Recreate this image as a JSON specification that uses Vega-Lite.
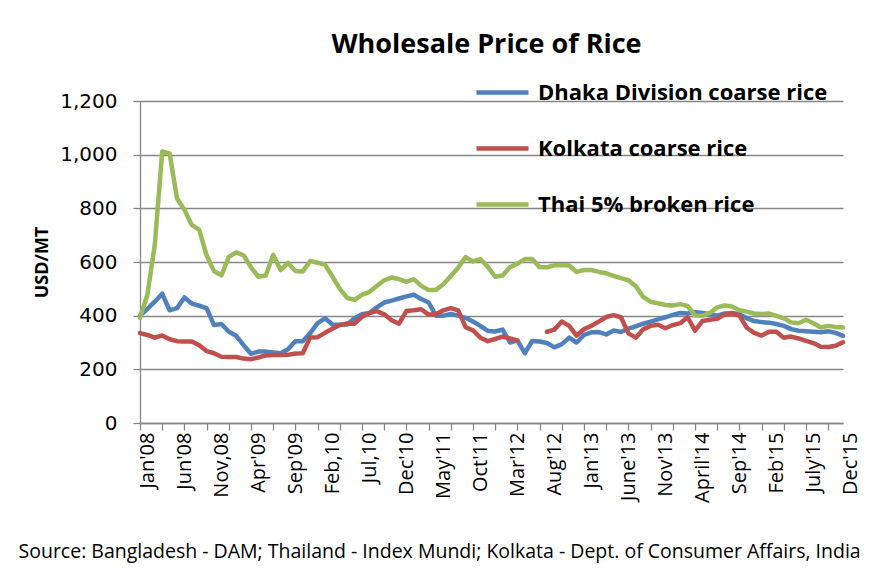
{
  "$schema": "https://vega.github.io/schema/vega-lite/v6.json",
  "width": 703,
  "height": 322,
  "autosize": {"type": "none"},
  "padding": {"left": 140, "top": 101, "right": 37, "bottom": 154},
  "background": "white",
  "title": {"text": "Wholesale Price of Rice", "font": "Open Sans", "fontSize": 27, "fontWeight": "bold", "color": "black", "anchor": "middle", "offset": 5, "dx": -5},
  "data": {"values": [
    {"m":0,"Dhaka Division coarse rice":400,"Kolkata coarse rice":335,"Thai 5% broken rice":392},
    {"m":1,"Dhaka Division coarse rice":425,"Kolkata coarse rice":328,"Thai 5% broken rice":478},
    {"m":2,"Dhaka Division coarse rice":452,"Kolkata coarse rice":318,"Thai 5% broken rice":665},
    {"m":3,"Dhaka Division coarse rice":482,"Kolkata coarse rice":326,"Thai 5% broken rice":1012},
    {"m":4,"Dhaka Division coarse rice":420,"Kolkata coarse rice":312,"Thai 5% broken rice":1005},
    {"m":5,"Dhaka Division coarse rice":428,"Kolkata coarse rice":305,"Thai 5% broken rice":837},
    {"m":6,"Dhaka Division coarse rice":468,"Kolkata coarse rice":304,"Thai 5% broken rice":795},
    {"m":7,"Dhaka Division coarse rice":445,"Kolkata coarse rice":304,"Thai 5% broken rice":738},
    {"m":8,"Dhaka Division coarse rice":437,"Kolkata coarse rice":290,"Thai 5% broken rice":720},
    {"m":9,"Dhaka Division coarse rice":428,"Kolkata coarse rice":268,"Thai 5% broken rice":625},
    {"m":10,"Dhaka Division coarse rice":365,"Kolkata coarse rice":260,"Thai 5% broken rice":566},
    {"m":11,"Dhaka Division coarse rice":369,"Kolkata coarse rice":247,"Thai 5% broken rice":550},
    {"m":12,"Dhaka Division coarse rice":340,"Kolkata coarse rice":246,"Thai 5% broken rice":619},
    {"m":13,"Dhaka Division coarse rice":325,"Kolkata coarse rice":246,"Thai 5% broken rice":636},
    {"m":14,"Dhaka Division coarse rice":290,"Kolkata coarse rice":240,"Thai 5% broken rice":625},
    {"m":15,"Dhaka Division coarse rice":258,"Kolkata coarse rice":238,"Thai 5% broken rice":580},
    {"m":16,"Dhaka Division coarse rice":266,"Kolkata coarse rice":244,"Thai 5% broken rice":545},
    {"m":17,"Dhaka Division coarse rice":266,"Kolkata coarse rice":252,"Thai 5% broken rice":550},
    {"m":18,"Dhaka Division coarse rice":263,"Kolkata coarse rice":253,"Thai 5% broken rice":627},
    {"m":19,"Dhaka Division coarse rice":260,"Kolkata coarse rice":253,"Thai 5% broken rice":570},
    {"m":20,"Dhaka Division coarse rice":275,"Kolkata coarse rice":254,"Thai 5% broken rice":597},
    {"m":21,"Dhaka Division coarse rice":305,"Kolkata coarse rice":259,"Thai 5% broken rice":566},
    {"m":22,"Dhaka Division coarse rice":305,"Kolkata coarse rice":260,"Thai 5% broken rice":565},
    {"m":23,"Dhaka Division coarse rice":335,"Kolkata coarse rice":319,"Thai 5% broken rice":604},
    {"m":24,"Dhaka Division coarse rice":372,"Kolkata coarse rice":320,"Thai 5% broken rice":597},
    {"m":25,"Dhaka Division coarse rice":390,"Kolkata coarse rice":336,"Thai 5% broken rice":590},
    {"m":26,"Dhaka Division coarse rice":367,"Kolkata coarse rice":351,"Thai 5% broken rice":546},
    {"m":27,"Dhaka Division coarse rice":366,"Kolkata coarse rice":365,"Thai 5% broken rice":500},
    {"m":28,"Dhaka Division coarse rice":367,"Kolkata coarse rice":371,"Thai 5% broken rice":466},
    {"m":29,"Dhaka Division coarse rice":390,"Kolkata coarse rice":370,"Thai 5% broken rice":459},
    {"m":30,"Dhaka Division coarse rice":405,"Kolkata coarse rice":396,"Thai 5% broken rice":478},
    {"m":31,"Dhaka Division coarse rice":410,"Kolkata coarse rice":410,"Thai 5% broken rice":488},
    {"m":32,"Dhaka Division coarse rice":431,"Kolkata coarse rice":417,"Thai 5% broken rice":511},
    {"m":33,"Dhaka Division coarse rice":449,"Kolkata coarse rice":405,"Thai 5% broken rice":532},
    {"m":34,"Dhaka Division coarse rice":456,"Kolkata coarse rice":383,"Thai 5% broken rice":542},
    {"m":35,"Dhaka Division coarse rice":464,"Kolkata coarse rice":370,"Thai 5% broken rice":536},
    {"m":36,"Dhaka Division coarse rice":472,"Kolkata coarse rice":417,"Thai 5% broken rice":526},
    {"m":37,"Dhaka Division coarse rice":478,"Kolkata coarse rice":420,"Thai 5% broken rice":536},
    {"m":38,"Dhaka Division coarse rice":462,"Kolkata coarse rice":424,"Thai 5% broken rice":511},
    {"m":39,"Dhaka Division coarse rice":449,"Kolkata coarse rice":404,"Thai 5% broken rice":496},
    {"m":40,"Dhaka Division coarse rice":400,"Kolkata coarse rice":405,"Thai 5% broken rice":496},
    {"m":41,"Dhaka Division coarse rice":400,"Kolkata coarse rice":420,"Thai 5% broken rice":517},
    {"m":42,"Dhaka Division coarse rice":406,"Kolkata coarse rice":428,"Thai 5% broken rice":548},
    {"m":43,"Dhaka Division coarse rice":400,"Kolkata coarse rice":420,"Thai 5% broken rice":579},
    {"m":44,"Dhaka Division coarse rice":392,"Kolkata coarse rice":357,"Thai 5% broken rice":618},
    {"m":45,"Dhaka Division coarse rice":378,"Kolkata coarse rice":345,"Thai 5% broken rice":602},
    {"m":46,"Dhaka Division coarse rice":362,"Kolkata coarse rice":318,"Thai 5% broken rice":611},
    {"m":47,"Dhaka Division coarse rice":343,"Kolkata coarse rice":305,"Thai 5% broken rice":582},
    {"m":48,"Dhaka Division coarse rice":341,"Kolkata coarse rice":313,"Thai 5% broken rice":545},
    {"m":49,"Dhaka Division coarse rice":348,"Kolkata coarse rice":322,"Thai 5% broken rice":550},
    {"m":50,"Dhaka Division coarse rice":300,"Kolkata coarse rice":315,"Thai 5% broken rice":581},
    {"m":51,"Dhaka Division coarse rice":308,"Kolkata coarse rice":308,"Thai 5% broken rice":594},
    {"m":52,"Dhaka Division coarse rice":260,"Kolkata coarse rice":null,"Thai 5% broken rice":611},
    {"m":53,"Dhaka Division coarse rice":306,"Kolkata coarse rice":null,"Thai 5% broken rice":611},
    {"m":54,"Dhaka Division coarse rice":304,"Kolkata coarse rice":null,"Thai 5% broken rice":580},
    {"m":55,"Dhaka Division coarse rice":298,"Kolkata coarse rice":340,"Thai 5% broken rice":580},
    {"m":56,"Dhaka Division coarse rice":282,"Kolkata coarse rice":348,"Thai 5% broken rice":588},
    {"m":57,"Dhaka Division coarse rice":294,"Kolkata coarse rice":378,"Thai 5% broken rice":589},
    {"m":58,"Dhaka Division coarse rice":318,"Kolkata coarse rice":362,"Thai 5% broken rice":587},
    {"m":59,"Dhaka Division coarse rice":300,"Kolkata coarse rice":326,"Thai 5% broken rice":563},
    {"m":60,"Dhaka Division coarse rice":328,"Kolkata coarse rice":350,"Thai 5% broken rice":570},
    {"m":61,"Dhaka Division coarse rice":338,"Kolkata coarse rice":362,"Thai 5% broken rice":570},
    {"m":62,"Dhaka Division coarse rice":339,"Kolkata coarse rice":378,"Thai 5% broken rice":563},
    {"m":63,"Dhaka Division coarse rice":330,"Kolkata coarse rice":395,"Thai 5% broken rice":558},
    {"m":64,"Dhaka Division coarse rice":345,"Kolkata coarse rice":402,"Thai 5% broken rice":548},
    {"m":65,"Dhaka Division coarse rice":339,"Kolkata coarse rice":394,"Thai 5% broken rice":540},
    {"m":66,"Dhaka Division coarse rice":352,"Kolkata coarse rice":334,"Thai 5% broken rice":532},
    {"m":67,"Dhaka Division coarse rice":360,"Kolkata coarse rice":318,"Thai 5% broken rice":510},
    {"m":68,"Dhaka Division coarse rice":370,"Kolkata coarse rice":349,"Thai 5% broken rice":470},
    {"m":69,"Dhaka Division coarse rice":378,"Kolkata coarse rice":362,"Thai 5% broken rice":452},
    {"m":70,"Dhaka Division coarse rice":386,"Kolkata coarse rice":366,"Thai 5% broken rice":446},
    {"m":71,"Dhaka Division coarse rice":394,"Kolkata coarse rice":353,"Thai 5% broken rice":440},
    {"m":72,"Dhaka Division coarse rice":403,"Kolkata coarse rice":365,"Thai 5% broken rice":438},
    {"m":73,"Dhaka Division coarse rice":410,"Kolkata coarse rice":372,"Thai 5% broken rice":443},
    {"m":74,"Dhaka Division coarse rice":408,"Kolkata coarse rice":394,"Thai 5% broken rice":436},
    {"m":75,"Dhaka Division coarse rice":413,"Kolkata coarse rice":344,"Thai 5% broken rice":401},
    {"m":76,"Dhaka Division coarse rice":410,"Kolkata coarse rice":380,"Thai 5% broken rice":400},
    {"m":77,"Dhaka Division coarse rice":405,"Kolkata coarse rice":385,"Thai 5% broken rice":410},
    {"m":78,"Dhaka Division coarse rice":400,"Kolkata coarse rice":388,"Thai 5% broken rice":431},
    {"m":79,"Dhaka Division coarse rice":408,"Kolkata coarse rice":404,"Thai 5% broken rice":438},
    {"m":80,"Dhaka Division coarse rice":410,"Kolkata coarse rice":408,"Thai 5% broken rice":434},
    {"m":81,"Dhaka Division coarse rice":405,"Kolkata coarse rice":400,"Thai 5% broken rice":420},
    {"m":82,"Dhaka Division coarse rice":390,"Kolkata coarse rice":355,"Thai 5% broken rice":415},
    {"m":83,"Dhaka Division coarse rice":380,"Kolkata coarse rice":336,"Thai 5% broken rice":408},
    {"m":84,"Dhaka Division coarse rice":376,"Kolkata coarse rice":326,"Thai 5% broken rice":406},
    {"m":85,"Dhaka Division coarse rice":374,"Kolkata coarse rice":340,"Thai 5% broken rice":408},
    {"m":86,"Dhaka Division coarse rice":369,"Kolkata coarse rice":340,"Thai 5% broken rice":399},
    {"m":87,"Dhaka Division coarse rice":362,"Kolkata coarse rice":318,"Thai 5% broken rice":390},
    {"m":88,"Dhaka Division coarse rice":350,"Kolkata coarse rice":322,"Thai 5% broken rice":375},
    {"m":89,"Dhaka Division coarse rice":344,"Kolkata coarse rice":315,"Thai 5% broken rice":372},
    {"m":90,"Dhaka Division coarse rice":342,"Kolkata coarse rice":306,"Thai 5% broken rice":385},
    {"m":91,"Dhaka Division coarse rice":340,"Kolkata coarse rice":298,"Thai 5% broken rice":372},
    {"m":92,"Dhaka Division coarse rice":338,"Kolkata coarse rice":284,"Thai 5% broken rice":356},
    {"m":93,"Dhaka Division coarse rice":342,"Kolkata coarse rice":283,"Thai 5% broken rice":362},
    {"m":94,"Dhaka Division coarse rice":336,"Kolkata coarse rice":288,"Thai 5% broken rice":358},
    {"m":95,"Dhaka Division coarse rice":325,"Kolkata coarse rice":301,"Thai 5% broken rice":356}
  ]},
  "transform": [
    {"fold": ["Dhaka Division coarse rice", "Kolkata coarse rice", "Thai 5% broken rice"], "as": ["series", "price"]}
  ],
  "mark": {"type": "line", "strokeWidth": 4.5, "strokeJoin": "round", "strokeCap": "round", "invalid": "break-paths-show-domains"},
  "encoding": {
    "x": {
      "field": "m", "type": "quantitative",
      "scale": {"domain": [0, 95], "nice": false, "zero": false},
      "axis": {
        "values": [0,1,2,3,4,5,6,7,8,9,10,11,12,13,14,15,16,17,18,19,20,21,22,23,24,25,26,27,28,29,30,31,32,33,34,35,36,37,38,39,40,41,42,43,44,45,46,47,48,49,50,51,52,53,54,55,56,57,58,59,60,61,62,63,64,65,66,67,68,69,70,71,72,73,74,75,76,77,78,79,80,81,82,83,84,85,86,87,88,89,90,91,92,93,94,95],
        "labelExpr": "datum.value % 5 === 0 ? [\"Jan'08\",\"Jun'08\",\"Nov,08\",\"Apr'09\",\"Sep'09\",\"Feb,10\",\"Jul,10\",\"Dec'10\",\"May'11\",\"Oct'11\",\"Mar'12\",\"Aug'12\",\"Jan'13\",\"June'13\",\"Nov'13\",\"April'14\",\"Sep'14\",\"Feb'15\",\"July'15\",\"Dec'15\"][datum.value / 5] : ''",
        "labelAngle": -90,
        "labelAlign": "right",
        "labelBaseline": "middle",
        "labelOffset": 7,
        "labelOverlap": false,
        "labelBound": false,
        "labelFlush": false,
        "labelFont": "Open Sans",
        "labelFontSize": 20,
        "labelColor": "black",
        "labelPadding": 2,
        "tickSize": 7,
        "tickWidth": 1.3,
        "tickColor": "#868686",
        "tickOpacity": {"condition": {"test": "datum.value % 3 === 0", "value": 1}, "value": 0},
        "domainColor": "#868686",
        "domainWidth": 1.3,
        "grid": false,
        "title": "Source: Bangladesh - DAM; Thailand - Index Mundi; Kolkata - Dept. of Consumer Affairs, India",
        "titleFont": "Open Sans",
        "titleFontSize": 19.5,
        "titleFontWeight": "normal",
        "titleColor": "black",
        "titleX": -122,
        "titleY": 134,
        "titleAlign": "left",
        "titleAnchor": "start",
        "titleBaseline": "alphabetic"
      }
    },
    "y": {
      "field": "price", "type": "quantitative",
      "scale": {"domain": [0, 1200], "nice": false},
      "axis": {
        "values": [0, 200, 400, 600, 800, 1000, 1200],
        "format": ",d",
        "grid": true,
        "gridColor": "#868686",
        "gridWidth": 1.3,
        "domainColor": "#868686",
        "domainWidth": 1.3,
        "tickColor": "#868686",
        "tickWidth": 1.3,
        "tickSize": 7,
        "labelFont": "DejaVu Sans",
        "labelFontSize": 20,
        "labelColor": "black",
        "labelPadding": 16,
        "title": "USD/MT",
        "titleFont": "Open Sans",
        "titleFontSize": 18,
        "titleFontWeight": "bold",
        "titleColor": "black",
        "titleX": -98,
        "titleY": 161,
        "titleAngle": -90,
        "titleAlign": "center",
        "titleBaseline": "middle"
      }
    },
    "color": {
      "field": "series", "type": "nominal",
      "scale": {"domain": ["Dhaka Division coarse rice", "Kolkata coarse rice", "Thai 5% broken rice"], "range": ["#4F81BD", "#C0504D", "#9BBB59"]},
      "legend": {
        "orient": "none",
        "legendX": 334,
        "legendY": -37,
        "title": null,
        "symbolType": "stroke",
        "symbolSize": 2700,
        "symbolStrokeWidth": 4.5,
        "labelFont": "Open Sans",
        "labelFontSize": 22,
        "labelFontWeight": "bold",
        "labelColor": "black",
        "labelOffset": 7,
        "labelLimit": 400,
        "rowPadding": 16
      }
    }
  },
  "config": {"view": {"stroke": null}}
}
